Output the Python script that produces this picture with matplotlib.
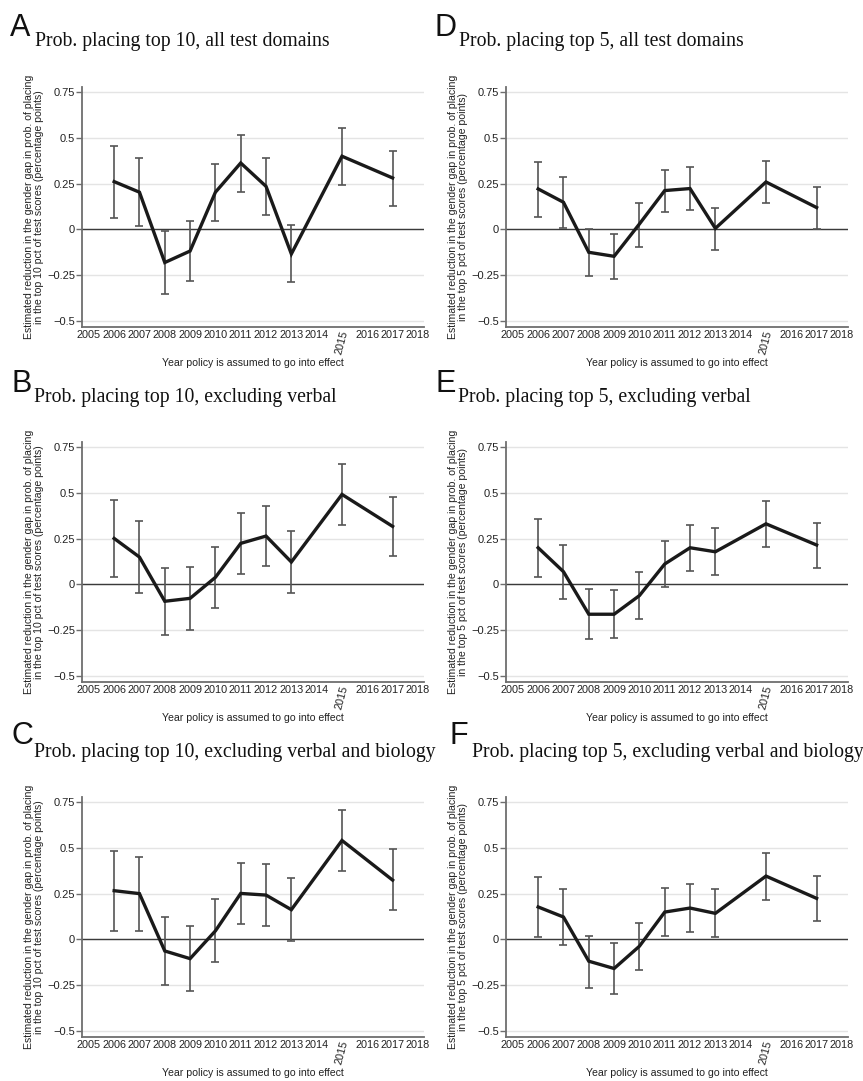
import matplotlib
matplotlib.use("Agg")
import matplotlib.pyplot as plt

# ---------------- data ----------------
years = [2006, 2007, 2008, 2009, 2010, 2011, 2012, 2013, 2015, 2017]
tick_years = list(range(2005, 2019))

# A: top 10, all test domains
a_est = [0.261, 0.203, -0.182, -0.119, 0.203, 0.363, 0.235, -0.135, 0.400, 0.281]
a_lo = [0.060, 0.018, -0.356, -0.283, 0.046, 0.204, 0.077, -0.290, 0.241, 0.128]
a_hi = [0.458, 0.390, -0.009, 0.044, 0.360, 0.518, 0.389, 0.022, 0.555, 0.431]

# B: top 10, excluding verbal
b_est = [0.251, 0.149, -0.093, -0.077, 0.038, 0.224, 0.264, 0.122, 0.492, 0.317]
b_lo = [0.038, -0.046, -0.279, -0.251, -0.131, 0.058, 0.098, -0.046, 0.326, 0.153]
b_hi = [0.461, 0.346, 0.087, 0.095, 0.206, 0.388, 0.430, 0.290, 0.656, 0.477]

# C: top 10, excluding verbal and biology
c_est = [0.266, 0.250, -0.064, -0.106, 0.046, 0.251, 0.242, 0.162, 0.541, 0.324]
c_lo = [0.047, 0.046, -0.253, -0.282, -0.124, 0.082, 0.071, -0.009, 0.372, 0.160]
c_hi = [0.483, 0.450, 0.122, 0.073, 0.219, 0.419, 0.410, 0.333, 0.709, 0.492]

# D: top 5, all test domains
d_est = [0.221, 0.148, -0.126, -0.148, 0.029, 0.212, 0.223, 0.005, 0.259, 0.119]
d_lo = [0.069, 0.007, -0.255, -0.272, -0.095, 0.093, 0.104, -0.113, 0.142, 0.004]
d_hi = [0.369, 0.285, 0.004, -0.027, 0.146, 0.327, 0.339, 0.119, 0.376, 0.230]

# E: top 5, excluding verbal
e_est = [0.200, 0.069, -0.164, -0.164, -0.062, 0.111, 0.200, 0.178, 0.331, 0.215]
e_lo = [0.038, -0.082, -0.300, -0.295, -0.189, -0.015, 0.073, 0.049, 0.206, 0.091]
e_hi = [0.359, 0.215, -0.024, -0.031, 0.066, 0.237, 0.324, 0.306, 0.457, 0.337]

# F: top 5, excluding verbal and biology
f_est = [0.177, 0.122, -0.120, -0.160, -0.038, 0.149, 0.171, 0.142, 0.346, 0.224]
f_lo = [0.011, -0.033, -0.268, -0.297, -0.169, 0.018, 0.042, 0.011, 0.217, 0.100]
f_hi = [0.342, 0.273, 0.020, -0.022, 0.091, 0.279, 0.300, 0.273, 0.475, 0.348]

y_ticks = [-0.5, -0.25, 0, 0.25, 0.5, 0.75]
y_ticklabels = ["\u22120.5", "\u22120.25", "0", "0.25", "0.5", "0.75"]

titles = {
    "A": "Prob. placing top 10, all test domains",
    "B": "Prob. placing top 10, excluding verbal",
    "C": "Prob. placing top 10, excluding verbal and biology",
    "D": "Prob. placing top 5, all test domains",
    "E": "Prob. placing top 5, excluding verbal",
    "F": "Prob. placing top 5, excluding verbal and biology",
}
ylabel10 = ("Estimated reduction in the gender gap in prob. of placing\n"
            "in the top 10 pct of test scores (percentage points)")
ylabel5 = ("Estimated reduction in the gender gap in prob. of placing\n"
           "in the top 5 pct of test scores (percentage points)")
xlabel = "Year policy is assumed to go into effect"

# ---------------- layout ----------------
W, H = 863, 1081
fig = plt.figure(figsize=(W / 100, H / 100), dpi=100)

SANS = "Liberation Sans"
SERIF = "Liberation Serif"


def frac(x, y):
    return x / W, 1 - y / H


col_left = [82, 506]
ax_w = 342
row_top = [87, 442, 797]
ax_h = 240

panels = [
    # letter, col, row, est, lo, hi, ylabel, letter_x, title_x
    ("A", 0, 0, a_est, a_lo, a_hi, ylabel10, 10, 35),
    ("B", 0, 1, b_est, b_lo, b_hi, ylabel10, 11, 34),
    ("C", 0, 2, c_est, c_lo, c_hi, ylabel10, 11, 34),
    ("D", 1, 0, d_est, d_lo, d_hi, ylabel5, 434, 459),
    ("E", 1, 1, e_est, e_lo, e_hi, ylabel5, 435, 458),
    ("F", 1, 2, f_est, f_lo, f_hi, ylabel5, 449, 472),
]

letter_base = [36, 392, 744]
title_base = [46, 402, 757]

for letter, col, row, est, lo, hi, ylab, lx, tx in panels:
    left = col_left[col]
    top = row_top[row]
    ax = fig.add_axes([left / W, 1 - (top + ax_h) / H, ax_w / W, ax_h / H])

    yerr_lo = [e - l for e, l in zip(est, lo)]
    yerr_hi = [h - e for e, h in zip(est, hi)]

    ax.set_xlim(2004.73, 2018.24)
    ax.set_ylim(-0.535, 0.779)

    ax.grid(axis="y", color="#e4e4e4", lw=1.0, zorder=0)
    ax.set_axisbelow(True)
    ax.axhline(0, color="#3a3a3a", lw=1.0, zorder=1)

    ax.errorbar(years, est, yerr=[yerr_lo, yerr_hi], fmt="none",
                ecolor="#555555", elinewidth=1.2, capsize=2.6, capthick=1.2,
                zorder=2)
    ax.plot(years, est, color="#1a1a1a", lw=2.4, zorder=3,
            solid_joinstyle="miter")

    for s in ("top", "right"):
        ax.spines[s].set_visible(False)
    for s in ("left", "bottom"):
        ax.spines[s].set_color("#6e6e6e")
        ax.spines[s].set_linewidth(1.3)

    ax.set_yticks(y_ticks)
    ax.set_yticklabels(y_ticklabels, fontsize=8, family=SANS, color="#222")
    ax.tick_params(axis="y", length=4, width=1.0, color="#6e6e6e", pad=1)

    ax.set_xticks(tick_years)
    labs = ax.set_xticklabels([str(y) for y in tick_years], fontsize=7.8,
                              family=SANS, color="#222")
    ax.tick_params(axis="x", length=0, pad=2)
    for t, y in zip(labs, tick_years):
        if y == 2015:
            t.set_rotation(75)
            t.set_ha("center")
            t.set_va("top")

    ax.set_ylabel(ylab, fontsize=7.6, family=SANS, color="#222",
                  linespacing=1.0)
    ax.yaxis.set_label_coords(-0.112, 0.5)
    ax.set_xlabel(xlabel, fontsize=7.6, family=SANS, color="#222")
    ax.xaxis.set_label_coords(0.5, -0.128)

    x0, y0 = frac(lx, letter_base[row])
    fig.text(x0, y0, letter, fontsize=22, family=SANS, color="#111",
             ha="left", va="baseline")
    x1, y1 = frac(tx, title_base[row])
    fig.text(x1, y1, titles[letter], fontsize=14.2, family=SERIF,
             color="#111", ha="left", va="baseline")

fig.savefig("out.png", dpi=100, facecolor="white")
